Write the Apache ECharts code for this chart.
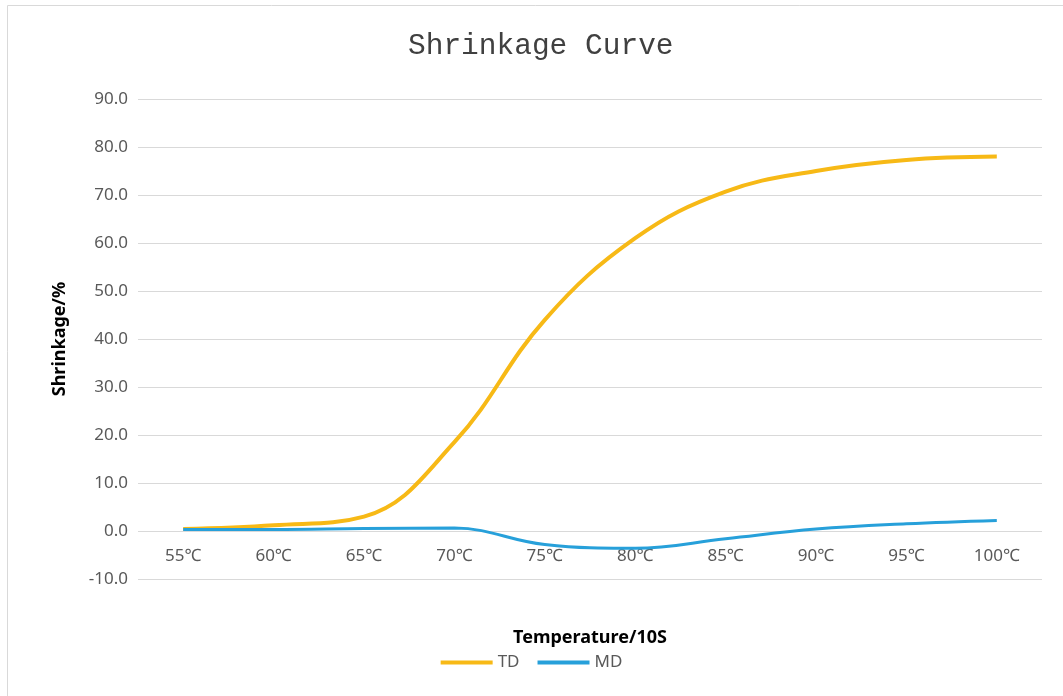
<!DOCTYPE html>
<html>
<head>
<meta charset="utf-8">
<script src="https://cdn.jsdelivr.net/npm/echarts@6/dist/echarts.min.js"></script>
<style>
  html, body { margin: 0; padding: 0; background: #fff; }
  #chart { width: 1063px; height: 696px; }
</style>
</head>
<body>
<div id="chart"></div>
<script>
const temps = ['55℃', '60℃', '65℃', '70℃', '75℃', '80℃', '85℃', '90℃', '95℃', '100℃']
const tdValues = [0.4, 1.2, 3.0, 18.5, 44.0, 61.0, 70.7, 75.0, 77.3, 78.0]
const mdValues = [0.3, 0.3, 0.5, 0.6, -2.8, -3.6, -1.6, 0.4, 1.5, 2.2]
const yTicks = { min: -10, max: 90, step: 10 }

const labelFont = '"Noto Sans", "Noto Sans CJK SC", sans-serif'

let chart = echarts.init(document.getElementById('chart'))

const option = {
  title: {
    text: 'Shrinkage Curve',
    left: 403,
    top: 26,
    textStyle: {
      fontFamily: '"Liberation Mono", monospace',
      fontSize: 29.5,
      fontWeight: 'normal',
      color: '#404040'
    }
  },
  graphic: [
    {
      type: 'rect',
      shape: { x: 7.5, y: 5.5, width: 1100, height: 800 },
      style: { fill: 'none', stroke: '#d9d9d9', lineWidth: 1 },
      silent: true
    }
  ],
  legend: {
    bottom: 20,
    left: 'center',
    itemWidth: 52,
    itemHeight: 4,
    itemGap: 18,
    icon: 'rect',
    textStyle: { fontFamily: labelFont, fontSize: 17, color: '#595959' },
    data: ['TD', 'MD']
  },
  grid: {
    left: 138,
    right: 21,
    top: 99,
    bottom: 117,
    containLabel: false,
    outerBoundsMode: 'none'
  },
  xAxis: {
    type: 'category',
    data: temps,
    boundaryGap: true,
    position: 'bottom',
    axisLine: { onZero: false, show: false },
    axisTick: { show: false },
    axisLabel: { margin: -31, fontFamily: labelFont, fontSize: 17, color: '#595959' },
    name: 'Temperature/10S',
    nameLocation: 'middle',
    nameGap: 50,
    nameTextStyle: { fontFamily: labelFont, fontSize: 18, fontWeight: 'bold', color: '#000' }
  },
  yAxis: {
    type: 'value',
    min: yTicks.min,
    max: yTicks.max,
    interval: yTicks.step,
    axisLine: { show: false },
    axisTick: { show: false },
    splitLine: { lineStyle: { color: '#d9d9d9' } },
    axisLabel: {
      margin: 10,
      fontFamily: labelFont,
      fontSize: 17,
      color: '#595959',
      formatter: v => v.toFixed(1)
    },
    name: 'Shrinkage/%',
    nameLocation: 'middle',
    nameGap: 69,
    nameTextStyle: { fontFamily: labelFont, fontSize: 18, fontWeight: 'bold', color: '#000' }
  },
  series: [
    {
      name: 'TD',
      type: 'line',
      data: tdValues,
      smooth: 0.4,
      showSymbol: false,
      color: '#F7B916',
      lineStyle: { width: 4, color: '#F7B916' }
    },
    {
      name: 'MD',
      type: 'line',
      data: mdValues,
      smooth: 0.4,
      showSymbol: false,
      color: '#27A0DA',
      lineStyle: { width: 3, color: '#27A0DA' }
    }
  ]
}

chart.setOption(option)
</script>
</body>
</html>
